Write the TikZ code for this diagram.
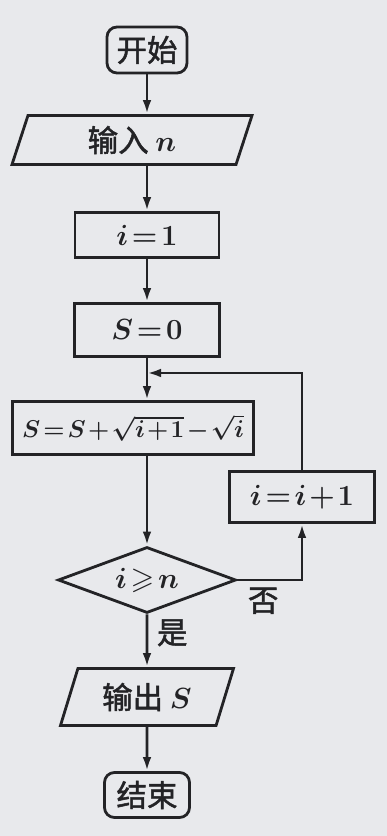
\documentclass[tikz,border=0pt]{standalone}
\usepackage{amssymb}
\usepackage{fontspec}
\newfontfamily\cjk{Noto Sans CJK SC}[FakeBold=1.6]
\usetikzlibrary{shapes.geometric,arrows.meta}
\definecolor{paper}{RGB}{232,233,236}
\definecolor{ink}{RGB}{35,35,38}
\newcommand\tightmath{\thickmuskip=2mu\relax\medmuskip=1.5mu\relax}

\tikzset{
  every node/.style={font=\fontsize{26}{30}\selectfont\cjk\boldmath\tightmath, text=ink},
  term/.style={draw=ink, line width=2.4pt, rounded corners=0.3cm, minimum width=2.4cm, minimum height=1.38cm, inner sep=2pt},
  proc/.style={draw=ink, line width=2.4pt, minimum height=1.5cm, inner sep=2pt},
  io/.style={draw=ink, line width=2.4pt, trapezium, trapezium left angle=64, trapezium right angle=116,
    trapezium stretches body, inner sep=2pt},
  cond/.style={draw=ink, line width=2.4pt, diamond, aspect=2.7, minimum width=5.34cm, minimum height=1.98cm, inner sep=0pt},
  flow/.style={draw=ink, line width=2.4pt, ->}
}

\begin{document}
\begin{tikzpicture}
  [>={Latex[length=4.2mm,width=2.6mm]}]
  \path[use as bounding box, fill=paper] (0,0) rectangle (11.61,25.08);

  \node[term] (start) at (4.41,23.58) {开始};
  \node[io, minimum width=7.2cm, minimum height=1.47cm] (input) at (3.96,20.88) {输入 $n$};
  \node[proc, minimum width=4.32cm, minimum height=1.35cm] (init) at (4.41,18.03) {$i=1$};
  \node[proc, minimum width=4.35cm, minimum height=1.59cm] (zero) at (4.41,15.18) {$S=0$};
  \coordinate (join) at (4.41,13.89);
  \node[proc, minimum width=7.23cm, minimum height=1.59cm] (body) at (3.99,12.24)
    {\fontsize{22}{26}\selectfont$S=S+\sqrt{i+1}-\sqrt{i}$};
  \node[cond] (cond) at (4.41,7.68) {$i\geqslant n$};
  \node[proc, minimum width=4.35cm, minimum height=1.53cm] (inc) at (9.06,10.17) {$i=i+1$};
  \node[io, trapezium left angle=62, trapezium right angle=118,
    minimum width=5.19cm, minimum height=1.71cm] (output) at (4.41,4.17) {输出 $S$};
  \node[term, minimum width=2.55cm, minimum height=1.35cm] (stop) at (4.41,1.23) {结束};

  \path[flow] (start) -- (start |- input.north);
  \path[flow] (start |- input.south) -- (init);
  \path[flow] (init) -- (zero);
  \path[flow] (zero) -- (zero |- body.north);
  \path[flow] (zero |- body.south) -- (cond);
  \path[flow] (cond.east) -| (inc.south) node[pos=0.2, below=2pt] {否};
  \path[flow] (inc.north) |- (join);
  \path[flow] (cond.south) -- (output) node[pos=0.35, right=4pt] {是};
  \path[flow] (output) -- (stop);
\end{tikzpicture}
\end{document}
